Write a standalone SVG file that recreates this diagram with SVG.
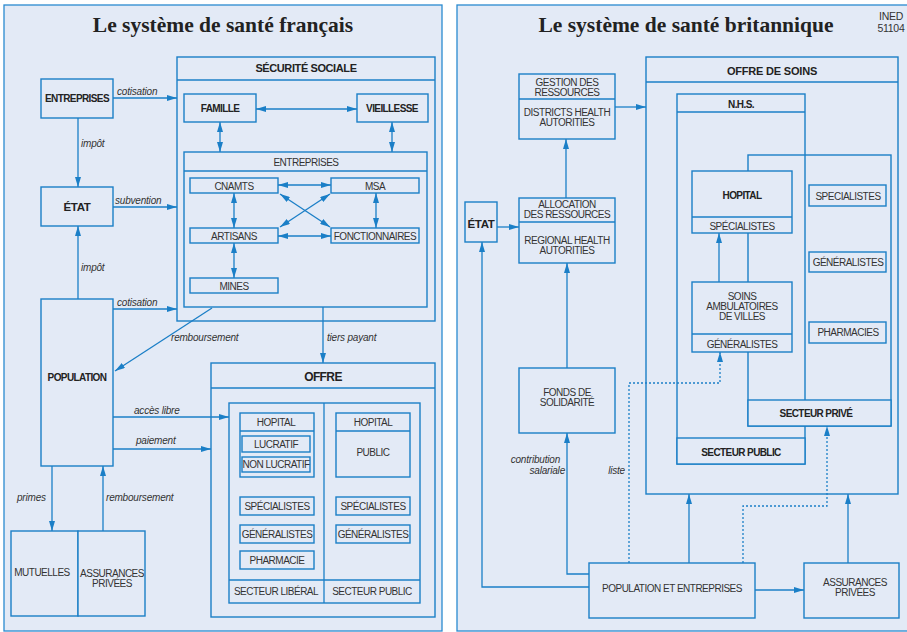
<svg xmlns="http://www.w3.org/2000/svg" width="907" height="632" viewBox="0 0 907 632">
<defs>
<style>
.pn{fill:#e3eaf6;stroke:#2a8ad0;stroke-width:1.3}
.bx{fill:#e3eaf6;stroke:#1b7fc7;stroke-width:1.4}
.nf{fill:none;stroke:#1b7fc7;stroke-width:1.4}
.ln{fill:none;stroke:#1b7fc7;stroke-width:1.3}
.dt{stroke-dasharray:2 2}
.t{font-family:"Liberation Sans",Arial,sans-serif;font-size:10px;fill:#333;text-anchor:middle;letter-spacing:-0.5px}
.b{font-weight:bold;font-size:10px;fill:#222;letter-spacing:-0.6px}
.i{font-family:"Liberation Sans",Arial,sans-serif;font-size:10px;font-style:italic;fill:#333;letter-spacing:-0.2px}
.ttl{font-family:"Liberation Serif","Times New Roman",serif;font-weight:bold;font-size:21.5px;fill:#222;text-anchor:middle}
</style>
<marker id="a" markerUnits="userSpaceOnUse" markerWidth="10" markerHeight="6" refX="10" refY="3" orient="auto-start-reverse"><path d="M0,0 L10,3 L0,6 Z" fill="#1b7fc7"/></marker>
</defs>

<g id="panels">
<rect class="pn" x="4" y="5" width="438" height="626"/>
<rect class="pn" x="457" y="5" width="460" height="626"/>
<text class="ttl" x="223" y="32">Le système de santé français</text>
<text class="ttl" x="686" y="32">Le système de santé britannique</text>
<text class="t" x="891" y="20" style="font-size:10.5px;letter-spacing:-0.3px">INED</text>
<text class="t" x="891" y="32" style="font-size:10.5px;letter-spacing:-0.3px">51104</text>
</g>

<!-- LEFT PANEL NODES -->
<g id="securite-sociale">
<rect class="bx" x="177" y="57" width="258" height="264"/>
<line class="ln" x1="177" y1="80" x2="435" y2="80"/>
<text class="t b" x="306" y="72" style="font-size:11px;letter-spacing:-0.4px">SÉCURITÉ SOCIALE</text>
</g>
<g id="entreprises-fr"><rect class="bx" x="41" y="79" width="72" height="39"/><text class="t b" x="77" y="102">ENTREPRISES</text></g>
<g id="famille"><rect class="bx" x="184" y="94" width="72" height="28"/><text class="t b" x="220" y="111.5">FAMILLE</text></g>
<g id="vieillesse"><rect class="bx" x="357" y="94" width="71" height="28"/><text class="t b" x="392" y="111.5">VIEILLESSE</text></g>
<g id="entreprises-ss">
<rect class="bx" x="184" y="152" width="243" height="155"/>
<line class="ln" x1="184" y1="171" x2="427" y2="171"/>
<text class="t" x="306" y="166">ENTREPRISES</text>
</g>
<g id="cnamts"><rect class="bx" x="190" y="178" width="88" height="15"/><text class="t" x="234" y="189.5">CNAMTS</text></g>
<g id="msa"><rect class="bx" x="331" y="178" width="88" height="15"/><text class="t" x="375" y="189.5">MSA</text></g>
<g id="artisans"><rect class="bx" x="190" y="228" width="88" height="15"/><text class="t" x="234" y="239.5">ARTISANS</text></g>
<g id="fonctionnaires"><rect class="bx" x="331" y="228" width="88" height="15"/><text class="t" x="375" y="239.5">FONCTIONNAIRES</text></g>
<g id="mines"><rect class="bx" x="190" y="278" width="88" height="15"/><text class="t" x="234" y="289.5">MINES</text></g>
<g id="etat-fr"><rect class="bx" x="41" y="187" width="72" height="39"/><text class="t b" x="77" y="211" style="font-size:11.5px;letter-spacing:-0.3px">ÉTAT</text></g>
<g id="population"><rect class="bx" x="41" y="299" width="72" height="167"/><text class="t b" x="77" y="381">POPULATION</text></g>
<g id="offre">
<rect class="bx" x="211" y="363" width="224" height="254"/>
<line class="ln" x1="211" y1="388" x2="435" y2="388"/>
<text class="t b" x="323" y="381" style="font-size:12px;letter-spacing:-0.6px">OFFRE</text>
<rect class="bx" x="229" y="403" width="191" height="200"/>
<line class="ln" x1="324" y1="403" x2="324" y2="603"/>
<line class="ln" x1="229" y1="580" x2="420" y2="580"/>
<text class="t" x="276" y="595">SECTEUR LIBÉRAL</text>
<text class="t" x="372" y="595">SECTEUR PUBLIC</text>
</g>
<g id="hopital-liberal">
<rect class="bx" x="240" y="413" width="74" height="64"/>
<line class="ln" x1="240" y1="431" x2="314" y2="431"/>
<text class="t" x="276" y="425.5">HOPITAL</text>
<rect class="bx" x="242" y="436" width="68" height="16"/><text class="t" x="276" y="447.5">LUCRATIF</text>
<rect class="bx" x="242" y="457" width="68" height="15"/><text class="t" x="276" y="468">NON LUCRATIF</text>
</g>
<g id="hopital-public">
<rect class="bx" x="336" y="413" width="74" height="64"/>
<line class="ln" x1="336" y1="431" x2="410" y2="431"/>
<text class="t" x="373" y="425.5">HOPITAL</text>
<text class="t" x="373" y="456">PUBLIC</text>
</g>
<g id="specialistes-l"><rect class="bx" x="240" y="497" width="74" height="18"/><text class="t" x="277" y="509.5">SPÉCIALISTES</text></g>
<g id="specialistes-p"><rect class="bx" x="336" y="497" width="74" height="18"/><text class="t" x="373" y="509.5">SPÉCIALISTES</text></g>
<g id="generalistes-l"><rect class="bx" x="240" y="525" width="74" height="18"/><text class="t" x="277" y="538">GÉNÉRALISTES</text></g>
<g id="generalistes-p"><rect class="bx" x="336" y="525" width="74" height="18"/><text class="t" x="373" y="538">GÉNÉRALISTES</text></g>
<g id="pharmacie"><rect class="bx" x="240" y="551" width="74" height="18"/><text class="t" x="277" y="563.5">PHARMACIE</text></g>
<g id="mutuelles"><rect class="bx" x="11" y="531" width="67" height="85"/><text class="t" x="42" y="576">MUTUELLES</text></g>
<g id="assurances-fr"><rect class="bx" x="78" y="531" width="67" height="85"/><text class="t" x="112" y="577">ASSURANCES</text><text class="t" x="112" y="587">PRIVÉES</text></g>

<!-- LEFT CONNECTORS -->
<g id="connectors-fr">
<line class="ln" x1="113" y1="98" x2="177" y2="98" marker-end="url(#a)"/>
<text class="i" x="117" y="95">cotisation</text>
<line class="ln" x1="78" y1="118" x2="78" y2="187" marker-end="url(#a)"/>
<text class="i" x="81" y="147">impôt</text>
<line class="ln" x1="113" y1="207" x2="177" y2="207" marker-end="url(#a)"/>
<text class="i" x="115" y="204">subvention</text>
<line class="ln" x1="78" y1="299" x2="78" y2="226" marker-end="url(#a)"/>
<text class="i" x="81" y="271">impôt</text>
<line class="ln" x1="113" y1="309" x2="177" y2="309" marker-end="url(#a)"/>
<text class="i" x="117" y="306">cotisation</text>
<line class="ln" x1="212" y1="308" x2="115" y2="371" marker-end="url(#a)"/>
<text class="i" x="171" y="341">remboursement</text>
<line class="ln" x1="323" y1="307" x2="323" y2="363" marker-end="url(#a)"/>
<text class="i" x="327" y="341">tiers payant</text>
<line class="ln" x1="113" y1="417" x2="229" y2="417" marker-end="url(#a)"/>
<text class="i" x="134" y="414">accès libre</text>
<line class="ln" x1="113" y1="449" x2="211" y2="449" marker-end="url(#a)"/>
<text class="i" x="136" y="444">paiement</text>
<line class="ln" x1="52" y1="466" x2="52" y2="531" marker-end="url(#a)"/>
<text class="i" x="17" y="501">primes</text>
<line class="ln" x1="103" y1="531" x2="103" y2="466" marker-end="url(#a)"/>
<text class="i" x="106" y="501">remboursement</text>
<line class="ln" x1="256" y1="109" x2="357" y2="109" marker-start="url(#a)" marker-end="url(#a)"/>
<line class="ln" x1="220" y1="122" x2="220" y2="152" marker-start="url(#a)" marker-end="url(#a)"/>
<line class="ln" x1="392" y1="122" x2="392" y2="152" marker-start="url(#a)" marker-end="url(#a)"/>
<line class="ln" x1="278" y1="185" x2="331" y2="185" marker-start="url(#a)" marker-end="url(#a)"/>
<line class="ln" x1="278" y1="236" x2="331" y2="236" marker-start="url(#a)" marker-end="url(#a)"/>
<line class="ln" x1="234" y1="193" x2="234" y2="228" marker-start="url(#a)" marker-end="url(#a)"/>
<line class="ln" x1="376" y1="193" x2="376" y2="228" marker-start="url(#a)" marker-end="url(#a)"/>
<line class="ln" x1="234" y1="243" x2="234" y2="278" marker-start="url(#a)" marker-end="url(#a)"/>
<line class="ln" x1="280" y1="194" x2="330" y2="227" marker-start="url(#a)" marker-end="url(#a)"/>
<line class="ln" x1="330" y1="194" x2="280" y2="227" marker-start="url(#a)" marker-end="url(#a)"/>
</g>

<!-- RIGHT PANEL NODES -->
<g id="offre-de-soins">
<rect class="bx" x="646" y="57" width="252" height="437"/>
<line class="ln" x1="646" y1="82" x2="898" y2="82"/>
<text class="t b" x="772" y="75" style="font-size:11px;letter-spacing:-0.2px">OFFRE DE SOINS</text>
</g>
<g id="nhs">
<rect class="nf" x="677" y="94" width="128" height="370"/>
<line class="ln" x1="677" y1="112" x2="805" y2="112"/>
<text class="t b" x="741" y="107.5">N.H.S.</text>
<rect class="bx" x="677" y="438" width="128" height="26"/>
<text class="t b" x="741" y="456">SECTEUR PUBLIC</text>
</g>
<g id="secteur-prive">
<rect class="nf" x="748" y="155" width="143" height="271"/>
<rect class="bx" x="748" y="400" width="143" height="26"/>
<text class="t b" x="816" y="416.5">SECTEUR PRIVÉ</text>
</g>
<g id="hopital-uk">
<rect class="bx" x="692" y="171" width="100" height="62"/>
<line class="ln" x1="692" y1="217" x2="792" y2="217"/>
<text class="t b" x="742" y="199">HOPITAL</text>
<text class="t" x="742" y="229.5">SPÉCIALISTES</text>
</g>
<g id="soins-ambulatoires">
<rect class="bx" x="692" y="282" width="100" height="70"/>
<line class="ln" x1="692" y1="334" x2="792" y2="334"/>
<text class="t" x="742" y="300">SOINS</text>
<text class="t" x="742" y="310">AMBULATOIRES</text>
<text class="t" x="742" y="320">DE VILLES</text>
<text class="t" x="742" y="347.5">GÉNÉRALISTES</text>
</g>
<g id="specialistes-uk"><rect class="bx" x="809" y="185" width="77" height="21"/><text class="t" x="848" y="199.5">SPECIALISTES</text></g>
<g id="generalistes-uk"><rect class="bx" x="809" y="252" width="77" height="20"/><text class="t" x="848" y="266">GÉNÉRALISTES</text></g>
<g id="pharmacies-uk"><rect class="bx" x="809" y="322" width="77" height="21"/><text class="t" x="848" y="336">PHARMACIES</text></g>
<g id="gestion">
<rect class="bx" x="519" y="74" width="96" height="65"/>
<line class="ln" x1="519" y1="99" x2="615" y2="99"/>
<text class="t" x="567" y="86">GESTION DES</text>
<text class="t" x="567" y="96">RESSOURCES</text>
<text class="t" x="567" y="116">DISTRICTS HEALTH</text>
<text class="t" x="567" y="126">AUTORITIES</text>
</g>
<g id="allocation">
<rect class="bx" x="519" y="198" width="96" height="65"/>
<line class="ln" x1="519" y1="222" x2="615" y2="222"/>
<text class="t" x="567" y="208">ALLOCATION</text>
<text class="t" x="567" y="218">DES RESSOURCES</text>
<text class="t" x="567" y="244">REGIONAL HEALTH</text>
<text class="t" x="567" y="254">AUTORITIES</text>
</g>
<g id="etat-uk"><rect class="bx" x="465" y="202" width="32" height="40"/><text class="t b" x="481" y="228" style="font-size:11.5px;letter-spacing:-0.3px">ÉTAT</text></g>
<g id="fonds"><rect class="bx" x="519" y="368" width="96" height="65"/><text class="t" x="567" y="396">FONDS DE</text><text class="t" x="567" y="406">SOLIDARITÉ</text></g>
<g id="population-entreprises"><rect class="bx" x="589" y="563" width="166" height="55"/><text class="t" x="672" y="592">POPULATION ET ENTREPRISES</text></g>
<g id="assurances-uk"><rect class="bx" x="804" y="563" width="95" height="55"/><text class="t" x="855" y="586">ASSURANCES</text><text class="t" x="855" y="596">PRIVÉES</text></g>

<!-- RIGHT CONNECTORS -->
<g id="connectors-uk">
<line class="ln" x1="615" y1="107" x2="646" y2="107" marker-end="url(#a)"/>
<line class="ln" x1="566" y1="198" x2="566" y2="139" marker-end="url(#a)"/>
<line class="ln" x1="497" y1="227" x2="519" y2="227" marker-end="url(#a)"/>
<line class="ln" x1="567" y1="368" x2="567" y2="263" marker-end="url(#a)"/>
<polyline class="ln" points="589,587 482,587 482,242" marker-end="url(#a)"/>
<polyline class="ln" points="589,574 567,574 567,433" marker-end="url(#a)"/>
<text class="i" x="560" y="463" text-anchor="end">contribution</text>
<text class="i" x="565" y="474" text-anchor="end">salariale</text>
<text class="i" x="625" y="474" text-anchor="end">liste</text>
<polyline class="ln dt" points="629,563 629,383 720,383 720,352" marker-end="url(#a)"/>
<polyline class="ln dt" points="743,563 743,506 827,506 827,426" marker-end="url(#a)"/>
<line class="ln" x1="689" y1="563" x2="689" y2="494" marker-end="url(#a)"/>
<line class="ln" x1="848" y1="563" x2="848" y2="494" marker-end="url(#a)"/>
<line class="ln" x1="755" y1="590" x2="804" y2="590" marker-end="url(#a)"/>
<line class="ln" x1="719" y1="282" x2="719" y2="233" marker-end="url(#a)"/>
</g>
</svg>
